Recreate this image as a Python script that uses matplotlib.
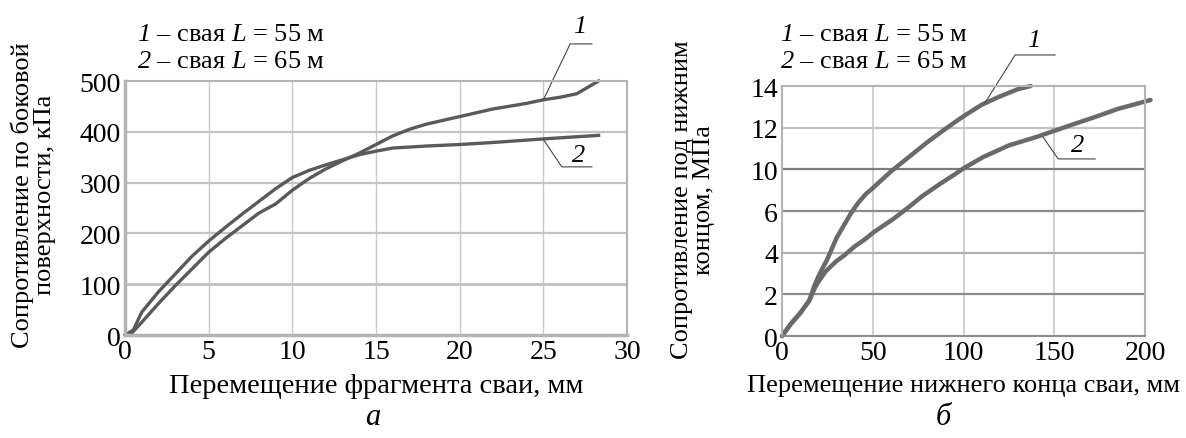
import numpy as np
import matplotlib
matplotlib.use("Agg")
import matplotlib.pyplot as plt

plt.rcParams['font.family'] = ['Liberation Serif', 'DejaVu Serif']
plt.rcParams['mathtext.fontset'] = 'custom'
plt.rcParams['mathtext.rm'] = 'Liberation Serif'
plt.rcParams['mathtext.it'] = 'Liberation Serif:italic'
plt.rcParams['mathtext.sf'] = 'Liberation Serif:italic'

# panel a: side resistance vs fragment displacement
a_x1 = [0.3, 1, 2, 3, 4, 5, 6, 7, 8, 9, 10, 11, 12, 13, 14, 15, 16, 17, 18,
        20, 22, 24, 25, 26, 27, 28.3]
a_y1 = [0, 25, 62, 97, 130, 163, 190, 215, 240, 258, 285, 308, 327, 343, 358,
        375, 392, 405, 415, 430, 445, 456, 463, 468, 475, 500]
a_x2 = [0, 0.5, 1, 2, 3, 4, 5, 6, 7, 8, 9, 10, 11, 12, 13, 14, 15, 16, 18,
        20, 22, 25, 28.3]
a_y2 = [0, 10, 45, 85, 120, 155, 185, 212, 238, 263, 288, 310, 324, 335, 345,
        355, 362, 368, 372, 375, 379, 386, 393]

# panel b: tip resistance vs tip displacement (axis positions, labels below)
b_x1 = [0, 5, 10, 15, 18, 20, 22, 25, 27, 30, 34, 38, 42, 46, 50, 55, 60, 65,
        70, 75, 80, 87, 95, 100, 110, 120, 130, 137]
b_y1 = [0, 0.6, 1.1, 1.7, 2.45, 2.85, 3.2, 3.7, 4.1, 4.7, 5.3, 5.9, 6.4, 6.8,
        7.1, 7.5, 7.9, 8.25, 8.6, 8.95, 9.3, 9.75, 10.25, 10.55, 11.1, 11.5,
        11.85, 12.0]
b_x2 = [0, 5, 10, 15, 18, 20, 24, 30, 34, 40, 45, 50, 55, 61, 70, 77, 87, 95,
        100, 105, 111, 125, 140, 150, 160, 171, 185, 203]
b_y2 = [0, 0.6, 1.1, 1.7, 2.3, 2.6, 3.1, 3.6, 3.85, 4.3, 4.6, 4.95, 5.25, 5.6,
        6.2, 6.7, 7.3, 7.75, 8.05, 8.3, 8.6, 9.15, 9.55, 9.85, 10.15, 10.47,
        10.9, 11.33]
b_tick_labels = ['0', '2', '4', '6', '10', '12', '14']

legend_lines = [r'$\mathsf{1}$ – свая $\mathit{L}$ = 55 м',
                r'$\mathsf{2}$ – свая $\mathit{L}$ = 65 м']

fig = plt.figure(figsize=(11.86, 4.39), dpi=100)
fs_tick = 20
fs_ylab = 19
fs_leg = 19
line_col = '#5a5a5a'
grid_col = '#c8c8c8'

ax1 = fig.add_axes([0.1054, 0.2346, 0.4233, 0.5786])
ax2 = fig.add_axes([0.6594, 0.2323, 0.3061, 0.5695])

for ax in (ax1, ax2):
    for s in ax.spines.values():
        s.set_color('#b4b4b4')
        s.set_linewidth(1.5)
    ax.tick_params(length=0, labelsize=fs_tick, pad=3)
    ax.set_axisbelow(True)

# panel a
ax1.set_xlim(0, 30)
ax1.set_ylim(0, 500)
ax1.set_xticks(np.arange(0, 31, 5))
ax1.set_yticks(np.arange(0, 501, 100))
for xv in range(5, 30, 5):
    ax1.axvline(xv, color=grid_col, lw=1.0, zorder=0)
for yv in range(100, 500, 100):
    ax1.axhline(yv, color='#c4c4c4', lw=2.2 if yv == 100 else 1.6, zorder=0)
ax1.spines['left'].set_linewidth(2.5)
ax1.spines['bottom'].set_linewidth(2.5)
ax1.plot(a_x1, a_y1, color=line_col, lw=2.4, clip_on=False)
ax1.plot(a_x2, a_y2, color=line_col, lw=2.4, clip_on=False)
ax1.set_xlabel('Перемещение фрагмента сваи, мм', fontsize=20.5, labelpad=6)
ax1.text(-0.182, 0.555, 'Сопротивление по боковой\nповерхности, кПа',
         transform=ax1.transAxes, rotation=90, ha='center', va='center',
         fontsize=fs_ylab, linespacing=1.0)
fig.text(137 / 1186, 1 - 35 / 439, legend_lines[0], fontsize=fs_leg, ha='left', va='center')
fig.text(137 / 1186, 1 - 62 / 439, legend_lines[1], fontsize=fs_leg, ha='left', va='center')
ax1.plot([25, 26.6, 27.9], [463, 573, 573], color='#444444', lw=0.8, clip_on=False)
ax1.plot([25, 26.1, 27.9], [385, 331, 331], color='#444444', lw=0.8, clip_on=False)
ax1.text(27.2, 608, '1', fontsize=fs_leg, style='italic', ha='center', va='center')
ax1.text(27.1, 354, '2', fontsize=fs_leg, style='italic', ha='center', va='center')
fig.text(0.314, 1 - 418 / 439, 'а', fontsize=22, style='italic', ha='center', va='center')

# panel b
ax2.set_xlim(0, 200)
ax2.set_ylim(0, 12)
ax2.set_xticks(np.arange(0, 201, 50))
ax2.set_yticks(np.arange(0, 13, 2))
ax2.set_yticklabels(b_tick_labels)
for xv in (50, 100, 150):
    ax2.axvline(xv, color=grid_col, lw=1.2, zorder=0)
for yv, c in zip([2, 4, 6, 8, 10], ['#8c8c8c', '#b0b0b0', '#8c8c8c', '#7c7c7c', '#c4c4c4']):
    ax2.axhline(yv, color=c, lw=1.6, zorder=0)
ax2.spines['bottom'].set_color('#8c8c8c')
ax2.plot(b_x1, b_y1, color='#6a6a6a', lw=3.2, clip_on=False, solid_capstyle='round')
ax2.plot(b_x2, b_y2, color='#6a6a6a', lw=3.2, clip_on=False, solid_capstyle='round')
ax2.set_xlabel('Перемещение нижнего конца сваи, мм', fontsize=19, labelpad=6)
ax2.text(-0.245, 0.548, 'Сопротивление под нижним\nконцом, МПа',
         transform=ax2.transAxes, rotation=90, ha='center', va='center',
         fontsize=fs_ylab, linespacing=1.0)
fig.text(780 / 1186, 1 - 35 / 439, legend_lines[0], fontsize=fs_leg, ha='left', va='center')
fig.text(780 / 1186, 1 - 62 / 439, legend_lines[1], fontsize=fs_leg, ha='left', va='center')
ax2.plot([111.8, 128.4, 150.4], [11.19, 13.49, 13.49], color='#444444', lw=0.8, clip_on=False)
ax2.plot([143.8, 152.1, 172.5], [9.55, 8.5, 8.5], color='#444444', lw=0.8, clip_on=False)
ax2.text(138.8, 14.2, '1', fontsize=fs_leg, style='italic', ha='center', va='center')
ax2.text(163, 9.15, '2', fontsize=fs_leg, style='italic', ha='center', va='center')
fig.text(0.795, 1 - 418 / 439, 'б', fontsize=22, style='italic', ha='center', va='center')

fig.savefig('out.png', dpi=100)
